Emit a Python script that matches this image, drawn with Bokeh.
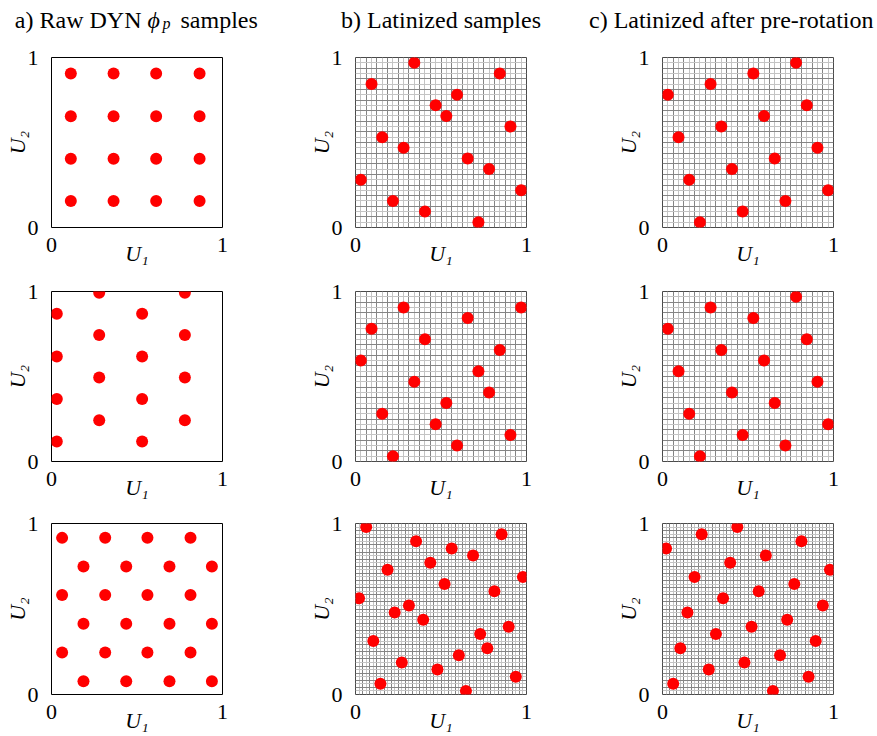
from bokeh.plotting import figure
from bokeh.layouts import gridplot, column
from bokeh.models import FixedTicker, Label
from bokeh.embed import file_html
from bokeh.resources import INLINE

# ---- sample coordinates (U1, U2) for each panel ----
# row 1: 16 points
raw16_x = [0.113, 0.363, 0.612, 0.866, 0.113, 0.363, 0.612, 0.866,
           0.113, 0.363, 0.612, 0.866, 0.113, 0.363, 0.612, 0.866]
raw16_y = [0.156, 0.156, 0.156, 0.156, 0.405, 0.405, 0.405, 0.405,
           0.655, 0.655, 0.655, 0.655, 0.906, 0.906, 0.906, 0.906]

lat16_x = [0.0312, 0.0938, 0.1562, 0.2188, 0.2812, 0.3438, 0.4062, 0.4688,
           0.5312, 0.5938, 0.6562, 0.7188, 0.7812, 0.8438, 0.9062, 0.9688]
lat16_y = [0.2812, 0.8438, 0.5312, 0.1562, 0.4688, 0.9688, 0.0938, 0.7188,
           0.6562, 0.7812, 0.4062, 0.0312, 0.3438, 0.9062, 0.5938, 0.2188]

rot16_x = [0.0312, 0.0938, 0.1562, 0.2188, 0.2812, 0.3438, 0.4062, 0.4688,
           0.5312, 0.5938, 0.6562, 0.7188, 0.7812, 0.8438, 0.9062, 0.9688]
rot16_y = [0.7812, 0.5312, 0.2812, 0.0312, 0.8438, 0.5938, 0.3438, 0.0938,
           0.9062, 0.6562, 0.4062, 0.1562, 0.9688, 0.7188, 0.4688, 0.2188]

# row 2: 16 points, staggered lattice
raw16s_x = [0.031, 0.031, 0.031, 0.031, 0.279, 0.279, 0.279, 0.279,
            0.530, 0.530, 0.530, 0.530, 0.780, 0.780, 0.780, 0.780]
raw16s_y = [0.117, 0.367, 0.617, 0.869, 0.242, 0.494, 0.744, 0.992,
            0.117, 0.367, 0.617, 0.869, 0.242, 0.494, 0.744, 0.992]

lat16s_x = [0.0312, 0.0938, 0.1562, 0.2188, 0.2812, 0.3438, 0.4062, 0.4688,
            0.5312, 0.5938, 0.6562, 0.7188, 0.7812, 0.8438, 0.9062, 0.9688]
lat16s_y = [0.5938, 0.7812, 0.2812, 0.0312, 0.9062, 0.4688, 0.7188, 0.2188,
            0.3438, 0.0938, 0.8438, 0.5312, 0.4062, 0.6562, 0.1562, 0.9062]

rot16s_x = [0.0312, 0.0938, 0.1562, 0.2188, 0.2812, 0.3438, 0.4062, 0.4688,
            0.5312, 0.5938, 0.6562, 0.7188, 0.7812, 0.8438, 0.9062, 0.9688]
rot16s_y = [0.7812, 0.5312, 0.2812, 0.0312, 0.9062, 0.6562, 0.4062, 0.1562,
            0.8438, 0.5938, 0.3438, 0.0938, 0.9688, 0.7188, 0.4688, 0.2188]

# row 3: 24 points
raw24_x = [0.062, 0.314, 0.561, 0.813, 0.187, 0.437, 0.690, 0.938,
           0.062, 0.314, 0.561, 0.813, 0.187, 0.437, 0.690, 0.938,
           0.062, 0.314, 0.561, 0.813, 0.187, 0.437, 0.690, 0.938]
raw24_y = [0.916, 0.916, 0.916, 0.916, 0.748, 0.748, 0.748, 0.748,
           0.582, 0.582, 0.582, 0.582, 0.414, 0.414, 0.414, 0.414,
           0.246, 0.246, 0.246, 0.246, 0.078, 0.078, 0.078, 0.078]

lat24_x = [0.0208, 0.0625, 0.1042, 0.1458, 0.1875, 0.2292, 0.2708, 0.3125,
           0.3542, 0.3958, 0.4375, 0.4792, 0.5208, 0.5625, 0.6042, 0.6458,
           0.6875, 0.7292, 0.7708, 0.8125, 0.8542, 0.8958, 0.9375, 0.9792]
lat24_y = [0.5625, 0.9792, 0.3125, 0.0625, 0.7292, 0.4792, 0.1875, 0.5208,
           0.8958, 0.4375, 0.7708, 0.1458, 0.6458, 0.8542, 0.2292, 0.0208,
           0.8125, 0.3542, 0.2708, 0.6042, 0.9375, 0.3958, 0.1042, 0.6875]

rot24_x = [0.0208, 0.0625, 0.1042, 0.1458, 0.1875, 0.2292, 0.2708, 0.3125,
           0.3542, 0.3958, 0.4375, 0.4792, 0.5208, 0.5625, 0.6042, 0.6458,
           0.6875, 0.7292, 0.7708, 0.8125, 0.8542, 0.8958, 0.9375, 0.9792]
rot24_y = [0.8542, 0.0625, 0.2708, 0.4792, 0.6875, 0.9375, 0.1458, 0.3542,
           0.5625, 0.7708, 0.9792, 0.1875, 0.3958, 0.6042, 0.8125, 0.0208,
           0.2292, 0.4375, 0.6458, 0.8958, 0.1042, 0.3125, 0.5208, 0.7292]

# column headings; the first one is set in pieces so that phi_p can be italic
title_a_parts = ["a) Raw DYN", "\u03d5", "p", "samples"]
title_b = "b) Latinized samples"
title_c = "c) Latinized after pre-rotation"
axis_ticks = [0, 1]
x_label = "U\u2081"
y_label = "U\u2082"

panels = [
    [(raw16_x, raw16_y, None), (lat16_x, lat16_y, 16), (rot16_x, rot16_y, 16)],
    [(raw16s_x, raw16s_y, None), (lat16s_x, lat16s_y, 16), (rot16s_x, rot16s_y, 16)],
    [(raw24_x, raw24_y, None), (lat24_x, lat24_y, 24), (rot24_x, rot24_y, 24)],
]

FONT = "Liberation Serif"
PAGE_W = 877
FRAME = 171
HEAD_H = 45
border_left = [51, 51, 86]
border_right = [82, 50, 44]
border_top = [12, 23, 21]
border_bottom = [40, 40, 42]
col_width = [border_left[c] + FRAME + border_right[c] for c in range(3)]
TITLE_SIZE = "24px"
TITLE_BASE = 26  # heading baseline, px above the bottom of the heading strip


def heading_strip():
    # a bare full-width strip whose data units are pixels, holding the headings
    h = figure(width=PAGE_W, height=HEAD_H,
               x_range=(0, PAGE_W), y_range=(0, HEAD_H),
               x_axis_location=None, y_axis_location=None,
               output_backend="svg", toolbar_location=None,
               min_border=0, min_border_left=0, min_border_right=0,
               min_border_top=0, min_border_bottom=0)
    h.outline_line_color = None
    h.xgrid.visible = False
    h.ygrid.visible = False
    h.background_fill_color = "white"
    h.border_fill_color = "white"

    def put(text, x, align, y=TITLE_BASE, size=TITLE_SIZE, style="normal"):
        h.add_layout(Label(x=x, y=y, text=text, text_font=FONT,
                           text_font_size=size, text_font_style=style,
                           text_color="black", text_align=align,
                           text_baseline="alphabetic"))

    put(title_a_parts[0], 141, "right")
    put(title_a_parts[1], 147, "left", style="italic")
    put(title_a_parts[2], 162, "left", y=TITLE_BASE - 4, size="16px",
        style="italic")
    put(title_a_parts[3], 180, "left")
    put(title_b, 440.5, "center")
    put(title_c, 873, "right")
    return h


def make_panel(xs, ys, strata, r, c):
    p = figure(width=col_width[c],
               height=border_top[r] + FRAME + border_bottom[r],
               x_range=(0, 1), y_range=(0, 1),
               output_backend="svg", toolbar_location=None,
               min_border_left=border_left[c], min_border_right=border_right[c],
               min_border_top=border_top[r], min_border_bottom=border_bottom[r])
    p.background_fill_color = "white"
    p.border_fill_color = "white"
    p.outline_line_color = "black" if strata is None else "#4a4a4a"
    p.outline_line_width = 1
    p.outline_line_alpha = 1

    for ax in (p.xaxis, p.yaxis):
        ax.ticker = FixedTicker(ticks=axis_ticks)
        ax.major_tick_line_color = None
        ax.minor_tick_line_color = None
        ax.axis_line_color = None
        ax.major_label_text_font = FONT
        ax.major_label_text_font_size = "22px"
        ax.major_label_text_color = "black"
        ax.axis_label_text_font = FONT
        ax.axis_label_text_font_size = "22px"
        ax.axis_label_text_font_style = "italic"
        ax.axis_label_text_color = "black"
    p.xaxis.axis_label = x_label
    p.yaxis.axis_label = y_label
    p.xaxis.major_label_standoff = 4
    p.xaxis.axis_label_standoff = -14
    p.yaxis.major_label_standoff = 7
    p.yaxis.axis_label_standoff = -5
    p.yaxis.major_label_orientation = "horizontal"

    if strata is None:
        p.xgrid.visible = False
        p.ygrid.visible = False
    else:
        # stratum boundaries (darker) and stratum centres (lighter)
        edges = [k / strata for k in range(strata + 1)]
        mids = [(k + 0.5) / strata for k in range(strata)]
        for g in (p.xgrid, p.ygrid):
            g.ticker = FixedTicker(ticks=edges, minor_ticks=mids)
            g.grid_line_color = "#858585"
            g.grid_line_width = 1
            g.grid_line_alpha = 1
            g.minor_grid_line_color = "#c4c4c4"
            g.minor_grid_line_width = 1
            g.level = "underlay"

    p.scatter(xs, ys, size=12, fill_color="#ff0000", line_color=None)
    return p


grid = gridplot([[make_panel(xs, ys, n, r, c) for c, (xs, ys, n) in enumerate(row)]
                 for r, row in enumerate(panels)], toolbar_location=None)

layout = column(heading_strip(), grid, spacing=0)

with open("out.html", "w") as f:
    f.write(file_html(layout, INLINE))
